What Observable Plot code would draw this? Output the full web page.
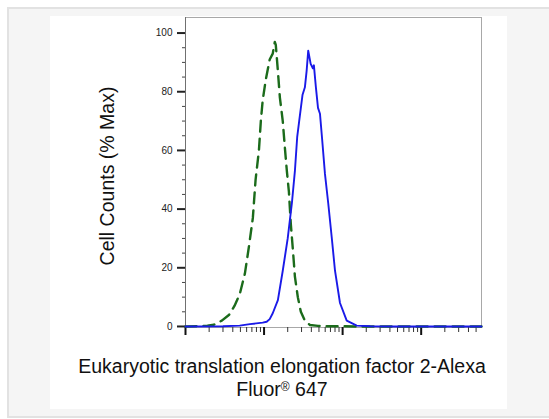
<!DOCTYPE html>
<html>
<head>
<meta charset="utf-8">
<script src="https://cdn.jsdelivr.net/npm/d3@7"></script>
<script src="https://cdn.jsdelivr.net/npm/@observablehq/plot@0.6"></script>
<style>
  html, body { margin: 0; padding: 0; background: #fff; width: 549px; height: 419px; overflow: hidden; font-family: Arial, "Liberation Sans", sans-serif; }
  #outer { position: absolute; left: 7px; top: 7px; width: 560px; height: 411px; box-sizing: border-box; background: #f5f5f5; border-top: 2px solid #e2e2e2; border-left: 2px solid #e2e2e2; border-bottom: 2px solid #e2e2e2; }
  #panel { position: absolute; left: 50px; top: 16px; width: 457px; height: 393px; background: #fff; }
  #chart { position: absolute; left: 0; top: 0; }
  #chart svg { background: transparent !important; overflow: visible; }
  #ytitle { position: absolute; left: 107px; top: 176px; transform: translate(-50%, -50%) rotate(-90deg); white-space: nowrap; font-size: 19.5px; color: #111; }
  #xtitle { position: absolute; left: 50px; width: 464px; top: 355px; text-align: center; font-size: 19.5px; line-height: 23px; color: #111; }
  #xtitle sup { font-size: 0.62em; vertical-align: 0.4em; line-height: 0; }
</style>
</head>
<body>
<div id="outer"></div>
<div id="panel"></div>
<div id="chart"></div>
<div id="ytitle">Cell Counts (% Max)</div>
<div id="xtitle">Eukaryotic translation elongation factor 2-Alexa<br>Fluor<sup>®</sup> 647</div>
<script>
// Control (isotype) histogram — green dashed
const controlX = [10, 15, 19, 23, 29, 36, 42, 49, 57, 64, 72, 78, 86, 91, 96, 105, 118, 129, 137, 141, 150, 159, 173, 184, 195, 207, 219, 233, 247, 269, 294, 331, 384, 486, 600, 926, 1500, 3000, 6000, 12000, 25000, 58600];
const controlY = [0, 0.1, 0.3, 0.6, 2, 4, 7, 11, 18, 27, 37, 50, 60, 70, 77, 84, 91, 93, 97, 96, 87, 78, 70, 61, 53, 46, 35, 26, 17, 10, 5, 2, 0.5, 0.2, 0.1, 0.1, 0, 0, 0, 0, 0, 0];

// Sample histogram — blue solid
const sampleX = [10, 30, 49, 66, 96, 108, 118, 129, 150, 173, 200, 226, 247, 264, 280, 309, 331, 348, 365, 392, 418, 431, 457, 486, 515, 546, 596, 656, 726, 800, 926, 1128, 1513, 2250, 5000, 12000, 30000, 58600];
const sampleY = [0, 0.1, 0.3, 0.8, 1.3, 1.6, 2.5, 4.5, 9, 19, 30, 42, 53, 64.5, 70, 79, 81.5, 87, 94, 89.5, 88, 89, 81.5, 74.5, 72.5, 64.5, 52, 42, 30.5, 19, 8, 2, 0.3, 0.1, 0, 0, 0, 0];

// Axis ticks
const yMajorTicks = [0, 20, 40, 60, 80, 100];
const yMinorTicks = [5, 10, 15, 25, 30, 35, 45, 50, 55, 65, 70, 75, 85, 90, 95];
const xMajorTicks = [10, 100, 1000, 10000];
const xMinorTicks = [20, 30, 40, 50, 60, 70, 80, 90, 200, 300, 400, 500, 600, 700, 800, 900, 2000, 3000, 4000, 5000, 6000, 7000, 8000, 9000, 20000, 30000, 40000, 50000];

const control = controlX.map((x, i) => ({x, y: controlY[i]}));
const sample = sampleX.map((x, i) => ({x, y: sampleY[i]}));

const chart = Plot.plot({
  width: 549,
  height: 419,
  marginLeft: 185,
  marginRight: 68,
  marginTop: 17,
  marginBottom: 92,
  style: {fontFamily: "Arial, 'Liberation Sans', sans-serif", fontSize: "10px", color: "#222", background: "transparent"},
  x: {type: "log", domain: [10, 58600], axis: null},
  y: {domain: [-0.35, 105.3], axis: null},
  marks: [
    Plot.frame({stroke: "#a8a8a8"}),
    Plot.ruleX([10], {stroke: "#707070"}),
    Plot.axisY({ticks: yMinorTicks, tickSize: 3, text: null, stroke: "#444", label: null}),
    Plot.axisY({ticks: yMajorTicks, tickSize: 8, tickPadding: 5, strokeWidth: 2, stroke: "#222", fill: "#222", label: null}),
    Plot.axisX({ticks: xMinorTicks, tickSize: 5, text: null, stroke: "#333", label: null}),
    Plot.axisX({ticks: xMajorTicks, tickSize: 8, strokeWidth: 2, text: null, stroke: "#111", label: null}),
    Plot.line(control, {x: "x", y: "y", stroke: "#1b6b1b", strokeWidth: 2.4, strokeDasharray: "11,7"}),
    Plot.line(sample, {x: "x", y: "y", stroke: "#1a1ae8", strokeWidth: 1.9})
  ]
});
document.getElementById("chart").appendChild(chart);
</script>
</body>
</html>
